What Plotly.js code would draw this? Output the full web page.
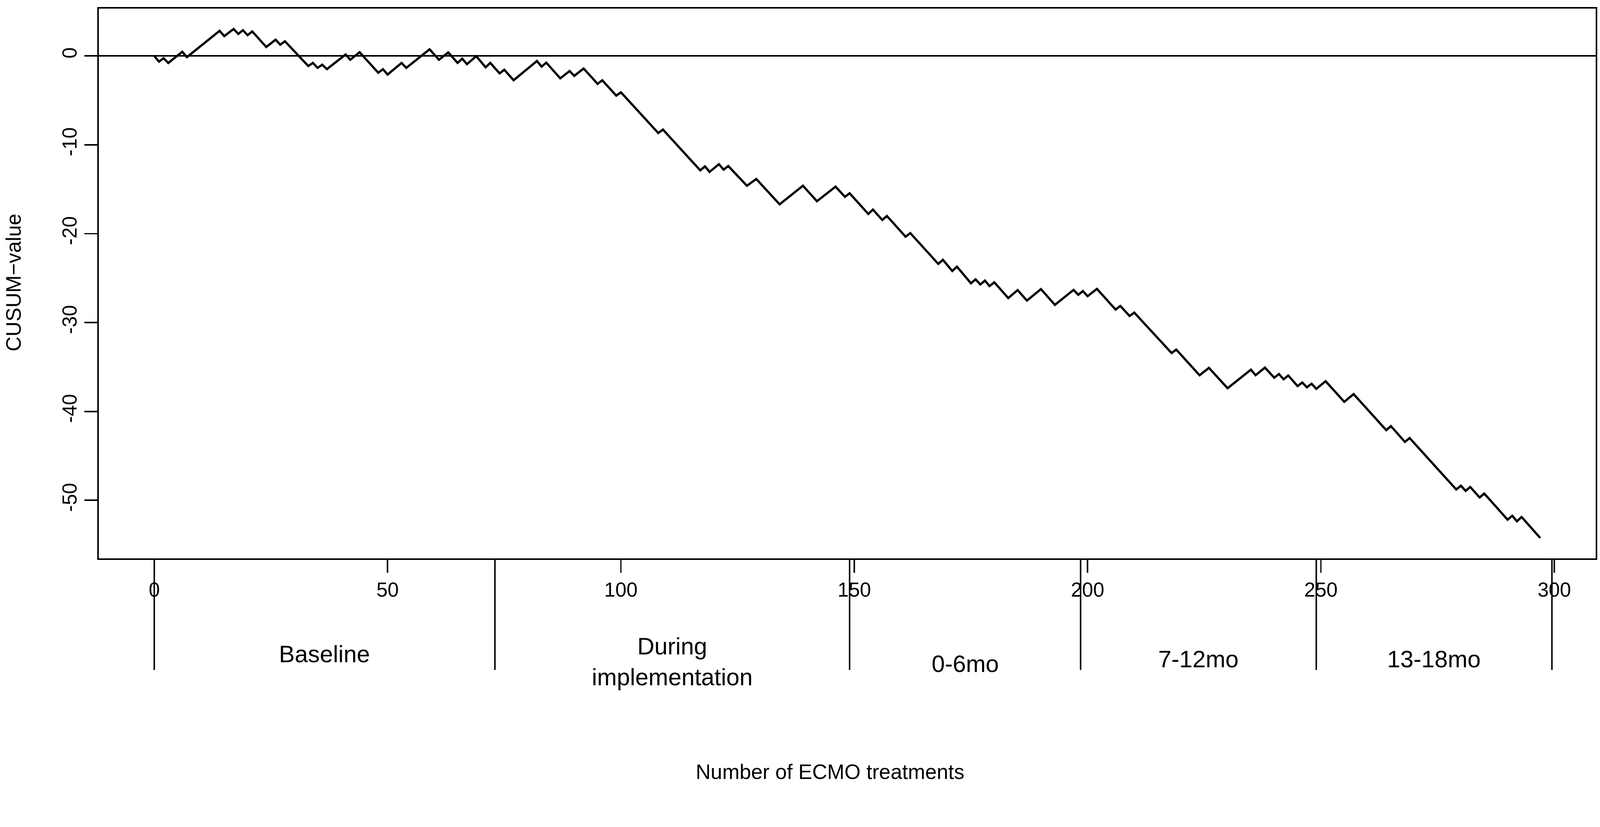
<!DOCTYPE html>
<html>
<head>
<meta charset="utf-8">
<script src="https://cdn.plot.ly/plotly-3.0.1.min.js"></script>
<style>
  html, body { margin: 0; padding: 0; background: #fff; overflow: hidden; }
</style>
</head>
<body>
<div id="chart"></div>
<script>
// turning points of the CUSUM curve (treatment number, CUSUM value)
const treatment = [
  0, 1, 2, 3, 6, 7, 14, 15, 17, 18, 19, 20, 21, 24, 26, 27, 28,
  33, 34, 35, 36, 37, 41, 42, 44, 48, 49, 50, 53, 54, 59, 61, 63,
  65, 66, 67, 69, 71, 72, 74, 75, 77, 82, 83, 84, 87, 89, 90, 92,
  95, 96, 99, 100, 108, 109, 117, 118, 119, 121, 122, 123, 127, 129,
  134, 139, 142, 146, 148, 149, 153, 154, 156, 157, 161, 162, 168, 169,
  171, 172, 175, 176, 177, 178, 179, 180, 183, 185, 187, 190, 193,
  197, 198, 199, 200, 202, 206, 207, 209, 210, 218, 219, 224, 226,
  230, 235, 236, 238, 240, 241, 242, 243, 245, 246, 247, 248, 249,
  251, 255, 257, 264, 265, 268, 269, 279, 280, 281, 282, 284, 285,
  290, 291, 292, 293, 297
];
const cusum = [
  0, -0.65, -0.26, -0.80, 0.46, -0.14, 2.82, 2.22, 3.03, 2.47, 2.89, 2.33, 2.75, 1.00, 1.82, 1.26, 1.64,
  -1.14, -0.79, -1.35, -0.99, -1.49, 0.15, -0.44, 0.42, -1.90, -1.49, -2.10, -0.79, -1.35, 0.74, -0.44, 0.39,
  -0.79, -0.31, -0.93, -0.03, -1.28, -0.79, -1.97, -1.56, -2.74, -0.58, -1.21, -0.76, -2.53, -1.70, -2.25, -1.42,
  -3.15, -2.74, -4.47, -4.10, -8.68, -8.29, -12.88, -12.43, -13.05, -12.18, -12.80, -12.39, -14.61, -13.85,
  -16.70, -14.61, -16.35, -14.71, -15.86, -15.45, -17.78, -17.29, -18.46, -18.01, -20.35, -19.93, -23.40, -22.94,
  -24.20, -23.71, -25.58, -25.14, -25.72, -25.28, -25.90, -25.47, -27.25, -26.35, -27.53, -26.24, -28.01,
  -26.32, -26.88, -26.46, -27.04, -26.21, -28.54, -28.13, -29.26, -28.88, -33.43, -33.04, -35.93, -35.10,
  -37.39, -35.30, -35.93, -35.07, -36.21, -35.79, -36.38, -35.96, -37.15, -36.74, -37.29, -36.88, -37.46,
  -36.60, -38.92, -38.05, -42.11, -41.65, -43.43, -42.99, -48.78, -48.36, -48.94, -48.50, -49.68, -49.24,
  -52.18, -51.74, -52.35, -51.88, -54.24
];

// study periods, separated at these treatment numbers
const periodBounds = [0, 73, 149, 198.5, 249, 299.5];
const periodNames = ['Baseline', 'During<br>implementation', '0-6mo', '7-12mo', '13-18mo'];

const xTicks = [0, 50, 100, 150, 200, 250, 300];
const yTicks = [0, -10, -20, -30, -40, -50];
const yTickText = ['0', '-10', '-20', '-30', '-40', '-50'];

// R-style axis ranges: data range padded by 4% on both sides
function padRange(v) {
  const lo = Math.min(...v), hi = Math.max(...v), d = (hi - lo) * 0.04;
  return [lo - d, hi + d];
}

// the chart was laid out for a 4317 x 2118 page; scale to whatever the viewport is
const W = document.documentElement.clientWidth || window.innerWidth;
const k = W / 4317;
const H = Math.round(2118 * k);
const px = v => v * k;

const font = 'Liberation Sans, Arial, Helvetica, sans-serif';
const labelY = [-0.174, -0.188, -0.192, -0.183, -0.183];

const data = [{
  x: treatment,
  y: cusum,
  type: 'scatter',
  mode: 'lines',
  line: { color: '#000', width: px(6) },
  hoverinfo: 'skip'
}];

const shapes = periodBounds.map(b => ({
  type: 'line', xref: 'x', yref: 'paper',
  x0: b, x1: b, y0: 0, y1: -0.203,
  line: { color: '#000', width: px(4) }
}));

const annotations = periodNames.map((name, i) => ({
  text: name, xref: 'x', yref: 'paper',
  x: (periodBounds[i] + periodBounds[i + 1]) / 2, y: labelY[i],
  xanchor: 'center', yanchor: 'middle', showarrow: false,
  font: { family: font, size: px(64), color: '#000' }
}));
annotations.push({
  text: 'Number of ECMO treatments', xref: 'paper', yref: 'paper',
  x: 0.4886, y: -0.388, xanchor: 'center', yanchor: 'middle', showarrow: false,
  font: { family: font, size: px(56), color: '#000' }
});
annotations.push({
  text: 'CUSUM\u2212value', xref: 'paper', yref: 'paper', textangle: -90,
  x: -0.0572, y: 0.502, xanchor: 'center', yanchor: 'middle', showarrow: false,
  font: { family: font, size: px(56), color: '#000' }
});

const layout = {
  width: W,
  height: H,
  paper_bgcolor: '#fff',
  plot_bgcolor: '#fff',
  showlegend: false,
  font: { family: font, size: px(54), color: '#000' },
  margin: { l: px(267), r: px(12), t: px(23), b: px(611), pad: 0 },
  xaxis: {
    range: padRange(treatment),
    tickvals: xTicks,
    ticks: 'outside', ticklen: px(35), tickwidth: px(4), tickcolor: '#000',
    ticklabelposition: 'outside',
    ticklabelstandoff: px(22),
    showline: true, mirror: true, linecolor: '#000', linewidth: px(4),
    showgrid: false, zeroline: false,
    tickfont: { family: font, size: px(54), color: '#000' }
  },
  yaxis: {
    range: padRange(cusum),
    tickvals: yTicks,
    ticktext: yTickText,
    tickangle: -90,
    ticks: 'outside', ticklen: px(35), tickwidth: px(4), tickcolor: '#000',
    ticklabelposition: 'outside',
    ticklabelstandoff: px(16),
    showline: true, mirror: true, linecolor: '#000', linewidth: px(4),
    showgrid: false,
    zeroline: true, zerolinecolor: '#000', zerolinewidth: px(3.5),
    tickfont: { family: font, size: px(54), color: '#000' }
  },
  shapes: shapes,
  annotations: annotations,
  hovermode: false
};

Plotly.newPlot('chart', data, layout, { displayModeBar: false, staticPlot: true });
</script>
</body>
</html>
